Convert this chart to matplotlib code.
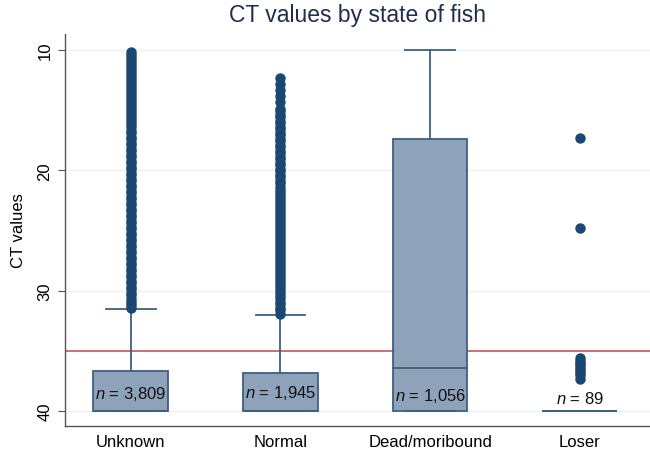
import matplotlib
matplotlib.use("Agg")
import matplotlib.pyplot as plt

plt.rcParams['font.family'] = ['Liberation Sans', 'DejaVu Sans']
plt.rcParams['mathtext.fontset'] = 'custom'
plt.rcParams['mathtext.it'] = 'Liberation Sans:italic'
plt.rcParams['mathtext.rm'] = 'Liberation Sans'

# ---- data ----
categories = ["Unknown", "Normal", "Dead/moribound", "Loser"]
n_labels = ["3,809", "1,945", "1,056", "89"]
q1 = [36.7, 36.8, 17.4, 40.0]
median = [40.0, 40.0, 36.4, 40.0]
q3 = [40.0, 40.0, 40.0, 40.0]
whisker_low = [31.5, 32.0, 10.0, 40.0]
whisker_high = [40.0, 40.0, 40.0, 40.0]
unknown_out = [10.2, 10.4, 10.7, 10.9, 11.2, 11.4, 11.7, 11.9, 12.2, 12.4,
               12.7, 12.9, 13.2, 13.4, 13.7, 13.9, 14.2, 14.4, 14.7, 14.9,
               15.2, 15.4, 15.7, 15.9, 16.2, 16.4, 16.7, 16.9, 17.2, 17.4,
               17.7, 17.9, 18.2, 18.4, 18.7, 18.9, 19.2, 19.4, 19.7, 19.9,
               20.2, 20.4, 20.7, 20.9, 21.2, 21.4, 21.7, 21.9, 22.2, 22.4,
               22.7, 22.9, 23.2, 23.4, 23.7, 23.9, 24.2, 24.4, 24.7, 24.9,
               25.2, 25.4, 25.7, 25.9, 26.2, 26.4, 26.7, 26.9, 27.2, 27.4,
               27.7, 27.9, 28.2, 28.4, 28.7, 28.9, 29.2, 29.4, 29.7, 29.9,
               30.2, 30.4, 30.7, 30.9, 31.2, 31.4]
normal_out = [12.3, 12.8, 13.3, 13.8, 14.3, 14.9, 15.1, 15.4, 15.6, 15.9,
              16.1, 16.4, 16.6, 16.9, 17.1, 17.4, 17.6, 17.9, 18.1, 18.4,
              18.6, 18.9, 19.1, 19.4, 19.6, 19.9, 20.1, 20.4, 20.6, 20.9,
              21.1, 21.4, 21.6, 21.9, 22.1, 22.4, 22.6, 22.9, 23.1, 23.4,
              23.6, 23.9, 24.1, 24.4, 24.6, 24.9, 25.1, 25.4, 25.6, 25.9,
              26.1, 26.4, 26.6, 26.9, 27.1, 27.4, 27.6, 27.9, 28.1, 28.4,
              28.6, 28.9, 29.1, 29.4, 29.6, 29.9, 30.1, 30.4, 30.6, 30.9,
              31.1, 31.4, 31.6, 31.9]
dead_out = []
loser_out = [17.3, 24.8, 35.6, 35.8, 36.0, 36.2, 36.4, 36.6, 36.8, 37.0, 37.3]
outliers = [unknown_out, normal_out, dead_out, loser_out]
threshold = 35.0

# ---- styles ----
box_fill = "#8ea3b9"
box_edge = "#3e5f82"
dot_col = "#1b4872"
red = "#c9545f"

fig = plt.figure(figsize=(6.5, 4.52), dpi=100)
ax = fig.add_axes([0.1, 0.055, 0.9, 0.868])

stats = []
for i, c in enumerate(categories):
    stats.append(dict(label=c, med=median[i], q1=q1[i], q3=q3[i],
                      whislo=whisker_low[i], whishi=whisker_high[i],
                      fliers=outliers[i]))

positions = [1, 2, 3, 4]
for y in [10, 20, 30, 40]:
    ax.axhline(y, color="#eaf0f3", lw=1.0, zorder=0)

ax.axhline(threshold, color=red, lw=1.2, zorder=1)

ax.bxp(stats, positions=positions, widths=0.5, capwidths=0.33,
       patch_artist=True, showfliers=True,
       boxprops=dict(facecolor=box_fill, edgecolor=box_edge, lw=1.3),
       whiskerprops=dict(color=box_edge, lw=1.3),
       capprops=dict(color=box_edge, lw=1.3),
       medianprops=dict(color=box_edge, lw=1.3),
       flierprops=dict(marker='o', markerfacecolor=dot_col,
                       markeredgecolor=dot_col, markersize=6.5),
       zorder=2)

text_y = [38.5, 38.4, 38.7, 38.9]
for p, lab, ty in zip(positions, n_labels, text_y):
    ax.text(p, ty, r"$n$ = " + lab, ha="center", va="center",
            fontsize=12, color="#111111", zorder=5)

ax.set_xlim(0.56, 4.47)
ax.set_ylim(41.25, 8.67)
ax.set_yticks([10, 20, 30, 40])
ax.set_yticklabels(["10", "20", "30", "40"], rotation=90, va="center",
                   fontsize=12)
ax.set_xticks(positions)
ax.set_xticklabels(categories, fontsize=12)
ax.tick_params(axis='x', length=0, pad=6)
ax.tick_params(axis='y', length=5, color="#555555", pad=4)
ax.set_ylabel("CT values", fontsize=12, labelpad=8)
ax.set_title("CT values by state of fish", fontsize=16.5, color="#1f2d4f",
             pad=9)

for s in ["top", "right"]:
    ax.spines[s].set_visible(False)
for s in ["left", "bottom"]:
    ax.spines[s].set_color("#555555")
    ax.spines[s].set_linewidth(1.0)

fig.savefig("out.png", dpi=100)
